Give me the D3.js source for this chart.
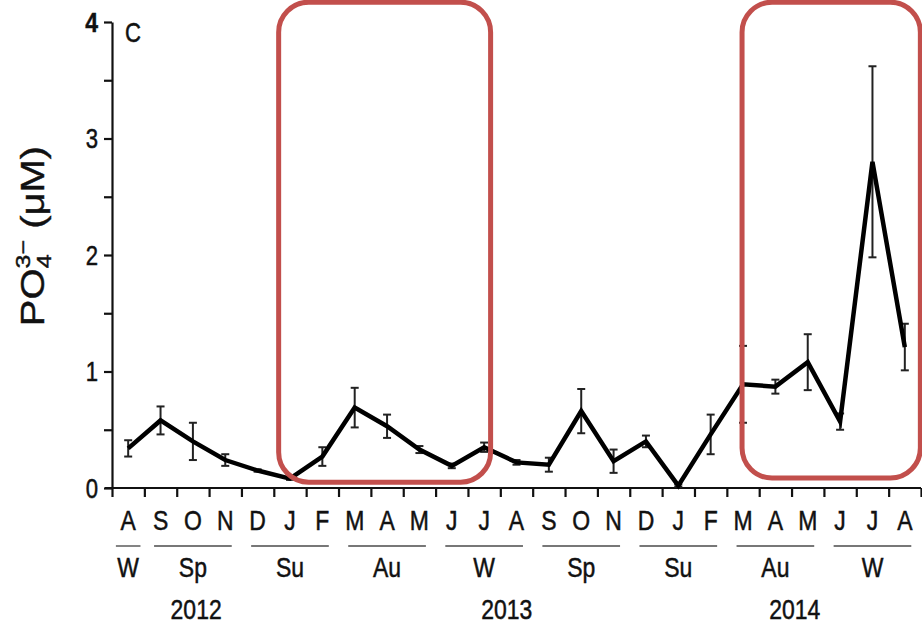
<!DOCTYPE html>
<html lang="en">
<head>
<meta charset="UTF-8">
<title>PO4 time series</title>
<script src="https://d3js.org/d3.v7.min.js"></script>
<style>
  body { margin: 0; background: #fff; }
  svg { display: block; }
  text { font-family: "Liberation Sans", Arial, sans-serif; fill: #111; stroke: #111; stroke-width: 0.5px; }
</style>
</head>
<body>
<script>
// monthly samples, Aug 2012 - Aug 2014
const months = ["A","S","O","N","D","J","F","M","A","M","J","J","A","S","O","N","D","J","F","M","A","M","J","J","A"];
const po4 = [0.34,0.58,0.40,0.24,0.15,0.08,0.27,0.69,0.53,0.33,0.19,0.35,0.22,0.20,0.66,0.23,0.40,0.02,0.46,0.89,0.87,1.08,0.57,2.80,1.21];
const po4Err = [0.07,0.12,0.16,0.05,0.01,0.01,0.08,0.17,0.10,0.03,0.02,0.04,0.02,0.06,0.19,0.10,0.05,0.01,0.17,0.33,0.06,0.24,0.07,0.82,0.20];

const seasons = ["W","Sp","Su","Au","W","Sp","Su","Au","W"];
const seasonStart = [0,1,4,7,10,13,16,19,22];
const seasonEnd = [1,4,7,10,13,16,19,22,25];

const years = ["2012","2013","2014"];
const yearPos = [2.6,12.2,21.1];

const yTicks = [0,1,2,3,4];
const yMinor = [0.5,1.5,2.5,3.5];

// red highlight boxes (month index range, value range)
const boxFrom = [5.15,19.47];
const boxTo = [11.7,24.98];
const boxLow = [0.05,0.085];
const boxHigh = [4.17,4.17];

const W = 922, H = 623;
const sx = 0.82; // the figure text is narrow

const svg = d3.select("body").append("svg").attr("width", W).attr("height", H);

const x = d3.scaleLinear().domain([0, months.length]).range([112, 921]);
const y = d3.scaleLinear().domain([0, 4]).range([488, 22]);

function squeeze(sel, px, py) {
  sel.attr("transform", `translate(${px},${py}) scale(${sx},1)`);
}

// x axis with ticks between months
const xAxis = svg.append("g")
  .attr("transform", `translate(0,${y(0)})`)
  .call(d3.axisBottom(x).tickValues(d3.range(0, months.length + 1)).tickFormat("").tickSizeInner(9).tickSizeOuter(0));
xAxis.select(".domain").attr("d", `M105,0H${x(months.length)}`);

// y axis
svg.append("g")
  .attr("transform", `translate(${x(0)},0)`)
  .call(d3.axisLeft(y).tickValues(yTicks.concat(yMinor)).tickFormat("").tickSizeInner(8).tickSizeOuter(0));

svg.selectAll(".domain, .tick line").attr("stroke", "#111").attr("stroke-width", 2.2);

// y tick labels
yTicks.forEach(v => {
  const t = svg.append("text")
    .attr("text-anchor", "end")
    .attr("dy", "0.36em")
    .style("font-size", v === 4 ? "28px" : "27px")
    .style("font-weight", v === 4 ? "bold" : "normal")
    .text(v);
  squeeze(t, 98, y(v));
});

// panel letter
squeeze(svg.append("text").style("font-size", "27px").text("C"), 125, 42);

// y axis title
const yt = svg.append("text")
  .attr("transform", `translate(44,236) scale(${sx},1) rotate(-90)`)
  .attr("text-anchor", "middle")
  .style("font-size", "40px");
yt.append("tspan").text("PO");
yt.append("tspan").attr("dy", 9).style("font-size", "25px").text("4");
yt.append("tspan").attr("dx", -14).attr("dy", -26).style("font-size", "25px").text("3−");
yt.append("tspan").attr("dy", 17).text(" (μM)");

// month labels
months.forEach((m, i) => {
  const t = svg.append("text").attr("text-anchor", "middle").style("font-size", "28px").text(m);
  squeeze(t, x(i + 0.5), 530);
});

// season bars + labels
seasons.forEach((s, i) => {
  const n = seasonEnd[i] - seasonStart[i];
  const inset = n === 1 ? 0.12 : 0.3;
  svg.append("line")
    .attr("x1", x(seasonStart[i] + inset)).attr("x2", x(seasonEnd[i] - inset))
    .attr("y1", 546).attr("y2", 546)
    .attr("stroke", "#777").attr("stroke-width", 1.8);
  const t = svg.append("text").attr("text-anchor", "middle").style("font-size", "28px").text(s);
  squeeze(t, x((seasonStart[i] + seasonEnd[i]) / 2), 577);
});

// year labels
years.forEach((yr, i) => {
  const t = svg.append("text").attr("text-anchor", "middle").style("font-size", "28px").text(yr);
  squeeze(t, x(yearPos[i]), 619);
});

// error bars
const eb = svg.append("g").attr("stroke", "#222").attr("stroke-width", 2);
po4.forEach((v, i) => {
  const cx = x(i + 0.5);
  const lo = y(v - po4Err[i]), hi = y(v + po4Err[i]);
  eb.append("line").attr("x1", cx).attr("x2", cx).attr("y1", lo).attr("y2", hi);
  eb.append("line").attr("x1", cx - 4).attr("x2", cx + 4).attr("y1", lo).attr("y2", lo);
  eb.append("line").attr("x1", cx - 4).attr("x2", cx + 4).attr("y1", hi).attr("y2", hi);
});

// mean line
svg.append("path")
  .datum(po4)
  .attr("fill", "none")
  .attr("stroke", "#000")
  .attr("stroke-width", 4.5)
  .attr("stroke-linejoin", "miter")
  .attr("d", d3.line().x((d, i) => x(i + 0.5)).y(d => y(d)));

// highlight boxes
boxFrom.forEach((b, i) => {
  svg.append("rect")
    .attr("x", x(b)).attr("y", y(boxHigh[i]))
    .attr("width", x(boxTo[i]) - x(b))
    .attr("height", y(boxLow[i]) - y(boxHigh[i]))
    .attr("rx", 30).attr("ry", 30)
    .attr("fill", "none")
    .attr("stroke", "#c24f4c")
    .attr("stroke-width", 5);
});
</script>
</body>
</html>
